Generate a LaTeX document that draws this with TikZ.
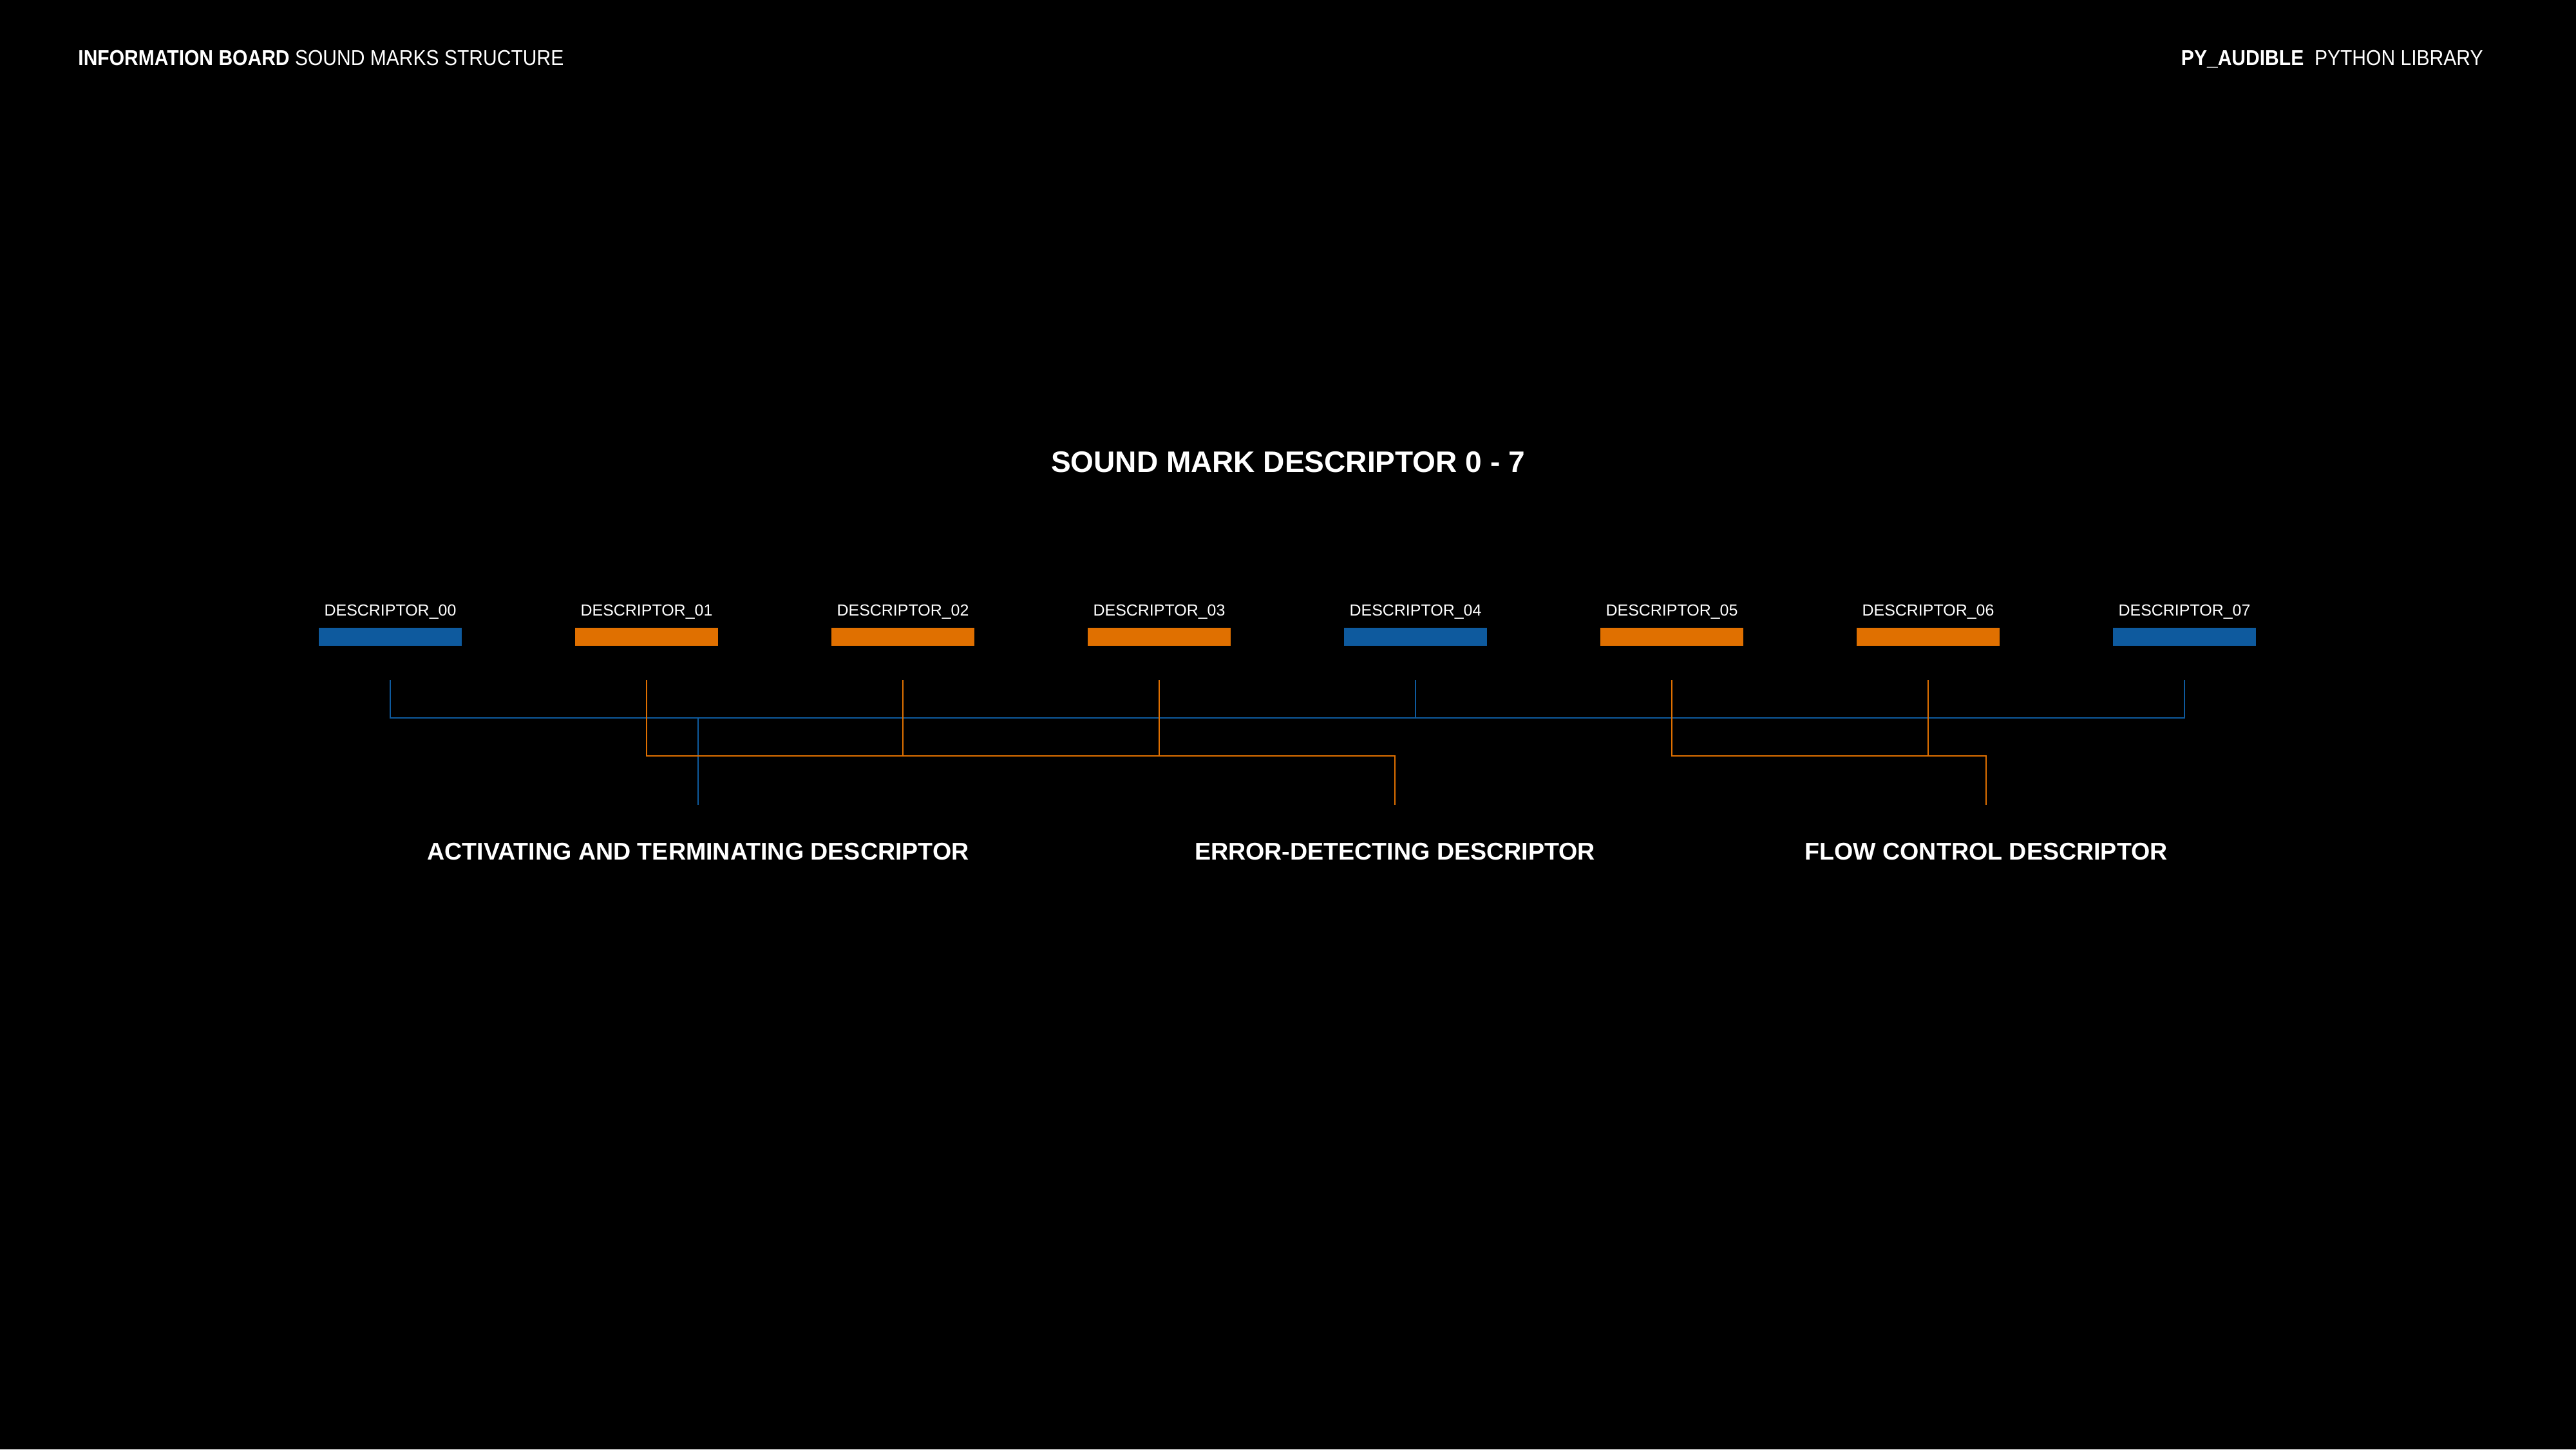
\documentclass[tikz,border=0pt]{standalone}
\usepackage{fontspec}
\setmainfont{Liberation Sans}
\newfontfamily\headfont[FakeStretch=0.9]{Liberation Sans}
\usetikzlibrary{positioning}
\definecolor{barblue}{RGB}{14,90,158}
\definecolor{barorange}{RGB}{224,112,0}

\begin{document}
\begin{tikzpicture}[node distance=1.76cm, line width=0.8pt,
    bluebar/.style={rectangle, fill=barblue, minimum width=2.22cm, minimum height=0.28cm, inner sep=0, outer sep=0},
    orangebar/.style={bluebar, fill=barorange},
    desclabel/.style={text=white, font=\fontsize{7.1}{8}\selectfont, inner sep=0, text depth=0},
    grouplabel/.style={text=white, font=\fontsize{10.7}{12}\selectfont\bfseries, inner sep=0, anchor=base},
    headlabel/.style={text=white, font=\headfont\fontsize{9.5}{11}\selectfont, inner sep=0},
    bline/.style={draw=barblue},
    oline/.style={draw=barorange},
]
    % background and page size
    \fill[black] (0,0) rectangle (40,-22.51);
    \useasboundingbox (0,0) rectangle (40,-22.51);

    % header
    \node [headlabel, anchor=base west](board) at (1.2,-1.01){\textbf{INFORMATION BOARD} SOUND MARKS STRUCTURE};
    \node [headlabel, anchor=base east](lib) at (38.57,-1.01){\textbf{PY\_AUDIBLE}\enspace PYTHON LIBRARY};

    \node [text=white, font=\fontsize{13.1}{15}\selectfont\bfseries, anchor=base](title) at (20,-7.335){SOUND MARK DESCRIPTOR 0 - 7};

    % descriptor bars
    \node [bluebar](d0) at (6.06,-9.89){};
    \node [orangebar](d1) [right = of d0]{};
    \node [orangebar](d2) [right = of d1]{};
    \node [orangebar](d3) [right = of d2]{};
    \node [bluebar](d4) [right = of d3]{};
    \node [orangebar](d5) [right = of d4]{};
    \node [orangebar](d6) [right = of d5]{};
    \node [bluebar](d7) [right = of d6]{};

    \node [desclabel](l0) [above = 0.17cm of d0]{DESCRIPTOR\_00};
    \node [desclabel](l1) [above = 0.17cm of d1]{DESCRIPTOR\_01};
    \node [desclabel](l2) [above = 0.17cm of d2]{DESCRIPTOR\_02};
    \node [desclabel](l3) [above = 0.17cm of d3]{DESCRIPTOR\_03};
    \node [desclabel](l4) [above = 0.17cm of d4]{DESCRIPTOR\_04};
    \node [desclabel](l5) [above = 0.17cm of d5]{DESCRIPTOR\_05};
    \node [desclabel](l6) [above = 0.17cm of d6]{DESCRIPTOR\_06};
    \node [desclabel](l7) [above = 0.17cm of d7]{DESCRIPTOR\_07};

    % group labels
    \node [grouplabel](act) at (10.84,-13.35){ACTIVATING AND TERMINATING DESCRIPTOR};
    \node [grouplabel](err) at (21.66,-13.35){ERROR-DETECTING DESCRIPTOR};
    \node [grouplabel](flow) at (30.84,-13.35){FLOW CONTROL DESCRIPTOR};

    \coordinate (bbus) at (0,-11.15);
    \coordinate (obus) at (0,-11.74);

    % blue bus
    \draw [bline, shorten <=5.3mm, shorten >=5.3mm] (d0.south) |- (bbus -| d7.south) -- (d7.south);
    \draw [bline, shorten <=5.3mm] (d4.south) -- (d4.south |- bbus);
    \draw [bline, shorten >=5.7mm] (act.north |- bbus) -- (act.north);

    % orange buses
    \draw [oline, shorten <=5.3mm, shorten >=5.7mm] (d1.south) |- (obus -| err.north) -- (err.north);
    \draw [oline, shorten <=5.3mm] (d2.south) -- (d2.south |- obus);
    \draw [oline, shorten <=5.3mm] (d3.south) -- (d3.south |- obus);
    \draw [oline, shorten <=5.3mm, shorten >=5.7mm] (d5.south) |- (obus -| flow.north) -- (flow.north);
    \draw [oline, shorten <=5.3mm] (d6.south) -- (d6.south |- obus);

\end{tikzpicture}
\end{document}
